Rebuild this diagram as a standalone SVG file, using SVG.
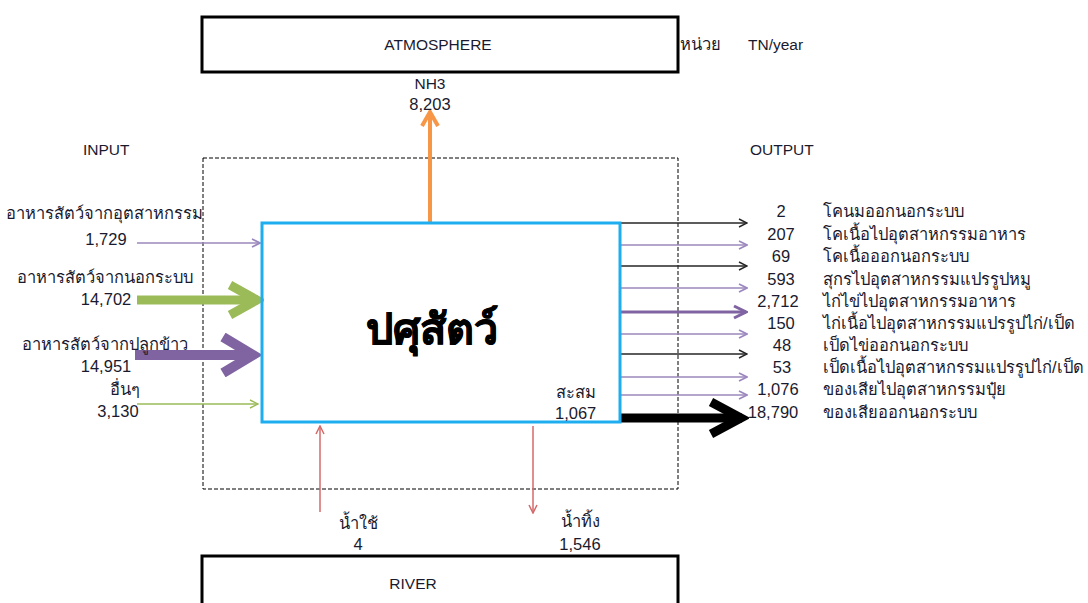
<svg xmlns="http://www.w3.org/2000/svg" width="1088" height="603" viewBox="0 0 1088 603">
<style>
text{font-family:"Liberation Sans","Noto Sans","DejaVu Sans",sans-serif;font-size:16.5px;fill:#1a1a2e}
.m{text-anchor:middle}
.lat{font-size:15.5px}
.box{fill:#fff;stroke:#000;stroke-width:3}
.dash{fill:none;stroke:#000;stroke-width:1;stroke-dasharray:4 2}
.thinp{stroke:#9B87BD;stroke-width:1.6;fill:none}
.thinb{stroke:#262626;stroke-width:1.3;fill:none}
.thing{stroke:#9BBB59;stroke-width:1.3;fill:none}
.red{stroke:#D46A6A;stroke-width:1.5;fill:none}
</style>
<defs>
<marker id="hp" viewBox="0 0 10 10" markerWidth="10" markerHeight="10" refX="9" refY="5" orient="auto" markerUnits="userSpaceOnUse"><path d="M1,1 L9,5 L1,9" fill="none" stroke="#9B87BD" stroke-width="1.6"/></marker>
<marker id="hb" viewBox="0 0 10 10" markerWidth="10" markerHeight="10" refX="9" refY="5" orient="auto" markerUnits="userSpaceOnUse"><path d="M1,1 L9,5 L1,9" fill="none" stroke="#262626" stroke-width="1.4"/></marker>
<marker id="hg" viewBox="0 0 10 10" markerWidth="10" markerHeight="10" refX="9" refY="5" orient="auto" markerUnits="userSpaceOnUse"><path d="M1,1 L9,5 L1,9" fill="none" stroke="#9BBB59" stroke-width="1.4"/></marker>
<marker id="hr" viewBox="0 0 10 10" markerWidth="10" markerHeight="10" refX="9" refY="5" orient="auto" markerUnits="userSpaceOnUse"><path d="M1,1 L9,5 L1,9" fill="none" stroke="#D46A6A" stroke-width="1.5"/></marker>
<marker id="hp2" viewBox="0 0 16 16" markerWidth="16" markerHeight="16" refX="14" refY="8" orient="auto" markerUnits="userSpaceOnUse"><path d="M2,2 L14,8 L2,14" fill="none" stroke="#8064A2" stroke-width="3"/></marker>
<marker id="ho" viewBox="0 0 20 20" markerWidth="20" markerHeight="20" refX="17" refY="10" orient="auto" markerUnits="userSpaceOnUse"><path d="M3,2 L17,10 L3,18" fill="none" stroke="#F79646" stroke-width="4"/></marker>
<marker id="hG" viewBox="0 0 40 40" markerWidth="40" markerHeight="40" refX="34" refY="20" orient="auto" markerUnits="userSpaceOnUse"><path d="M6,5 L33,20 L6,35" fill="none" stroke="#9BBB59" stroke-width="9"/></marker>
<marker id="hP" viewBox="0 0 44 44" markerWidth="44" markerHeight="44" refX="37" refY="22" orient="auto" markerUnits="userSpaceOnUse"><path d="M6,4 L36,22 L6,40" fill="none" stroke="#8064A2" stroke-width="10"/></marker>
<marker id="hK" viewBox="0 0 44 44" markerWidth="44" markerHeight="44" refX="37" refY="22" orient="auto" markerUnits="userSpaceOnUse"><path d="M6,6 L36,22 L6,38" fill="none" stroke="#000" stroke-width="9"/></marker>
</defs>

<rect class="dash" x="203" y="158" width="475" height="331"/>

<g id="atmosphere">
<rect class="box" x="202" y="17" width="476" height="55"/>
<text class="m lat" x="438" y="50">ATMOSPHERE</text>
</g>
<g id="unit">
<text x="680" y="50">หน่วย</text>
<text class="lat" x="748" y="50">TN/year</text>
</g>
<g id="river">
<rect class="box" x="202" y="556" width="476" height="60"/>
<text class="m lat" x="413" y="589">RIVER</text>
</g>

<g id="connectors">
<line x1="430" y1="222" x2="430" y2="112" stroke="#F79646" stroke-width="4" marker-end="url(#ho)"/>
<line class="thinp" x1="137" y1="243" x2="260" y2="243" marker-end="url(#hp)"/>
<line x1="137" y1="300" x2="258" y2="300" stroke="#9BBB59" stroke-width="9" marker-end="url(#hG)"/>
<line x1="135" y1="355" x2="254" y2="355" stroke="#8064A2" stroke-width="10" marker-end="url(#hP)"/>
<line class="thing" x1="137" y1="404" x2="258" y2="404" marker-end="url(#hg)"/>
<line class="red" x1="320" y1="512" x2="320" y2="426" marker-end="url(#hr)"/>
<line class="red" x1="533" y1="426" x2="533" y2="513" marker-end="url(#hr)"/>
<line class="thinb" x1="621" y1="223" x2="747" y2="223" marker-end="url(#hb)"/>
<line class="thinp" x1="621" y1="245" x2="747" y2="245" marker-end="url(#hp)"/>
<line class="thinb" x1="621" y1="266" x2="747" y2="266" marker-end="url(#hb)"/>
<line class="thinp" x1="621" y1="288" x2="747" y2="288" marker-end="url(#hp)"/>
<line x1="621" y1="312" x2="746" y2="312" stroke="#8064A2" stroke-width="3" marker-end="url(#hp2)"/>
<line class="thinp" x1="621" y1="334" x2="747" y2="334" marker-end="url(#hp)"/>
<line class="thinb" x1="621" y1="354" x2="747" y2="354" marker-end="url(#hb)"/>
<line class="thinp" x1="621" y1="377" x2="747" y2="377" marker-end="url(#hp)"/>
<line class="thinp" x1="621" y1="395" x2="747" y2="395" marker-end="url(#hp)"/>
<line x1="621" y1="418" x2="742" y2="418" stroke="#000" stroke-width="9" marker-end="url(#hK)"/>
</g>

<g id="livestock">
<rect x="262" y="223" width="358" height="199" fill="none" stroke="#1EAEEF" stroke-width="3"/>
<text class="m" x="432" y="344" style="font-size:43px;font-weight:bold;fill:#000;stroke:#000;stroke-width:0.8">ปศุสัตว์</text>
<text x="556" y="398">สะสม</text>
<text x="555" y="419">1,067</text>
</g>

<g id="nh3"><text class="m lat" x="430" y="89">NH3</text><text class="m" x="430" y="110">8,203</text></g>
<text class="lat" x="83" y="155">INPUT</text>
<text class="lat" x="750" y="155">OUTPUT</text>

<g id="inputs">
<text x="203" y="219" text-anchor="end">อาหารสัตว์จากอุตสาหกรรม</text>
<text class="m" x="106" y="245">1,729</text>
<text x="193" y="283" text-anchor="end">อาหารสัตว์จากนอกระบบ</text>
<text class="m" x="106" y="305">14,702</text>
<text x="188" y="350" text-anchor="end">อาหารสัตว์จากปลูกข้าว</text>
<text class="m" x="106" y="372">14,951</text>
<text class="m" x="125" y="395">อื่นๆ</text>
<text class="m" x="118" y="417">3,130</text>
</g>

<g id="water">
<text class="m" x="358" y="529">น้ำใช้</text>
<text class="m" x="358" y="550">4</text>
<text class="m" x="580" y="527">น้ำทิ้ง</text>
<text class="m" x="580" y="550">1,546</text>
</g>

<g id="outputs">
<text class="m" x="781" y="217">2</text><text x="823" y="217">โคนมออกนอกระบบ</text>
<text class="m" x="781" y="240">207</text><text x="823" y="240">โคเนื้อไปอุตสาหกรรมอาหาร</text>
<text class="m" x="781" y="262">69</text><text x="823" y="262">โคเนื้อออกนอกระบบ</text>
<text class="m" x="781" y="285">593</text><text x="823" y="285">สุกรไปอุตสาหกรรมแปรรูปหมู</text>
<text class="m" x="778" y="307">2,712</text><text x="823" y="307">ไก่ไข่ไปอุตสาหกรรมอาหาร</text>
<text class="m" x="781" y="329">150</text><text x="823" y="329">ไก่เนื้อไปอุตสาหกรรมแปรรูปไก่/เป็ด</text>
<text class="m" x="782" y="351">48</text><text x="823" y="351">เป็ดไข่ออกนอกระบบ</text>
<text class="m" x="782" y="373">53</text><text x="823" y="373">เป็ดเนื้อไปอุตสาหกรรมแปรรูปไก่/เป็ด</text>
<text class="m" x="778" y="395">1,076</text><text x="823" y="395">ของเสียไปอุตสาหกรรมปุ๋ย</text>
<text class="m" x="773" y="418">18,790</text><text x="823" y="418">ของเสียออกนอกระบบ</text>
</g>
</svg>
